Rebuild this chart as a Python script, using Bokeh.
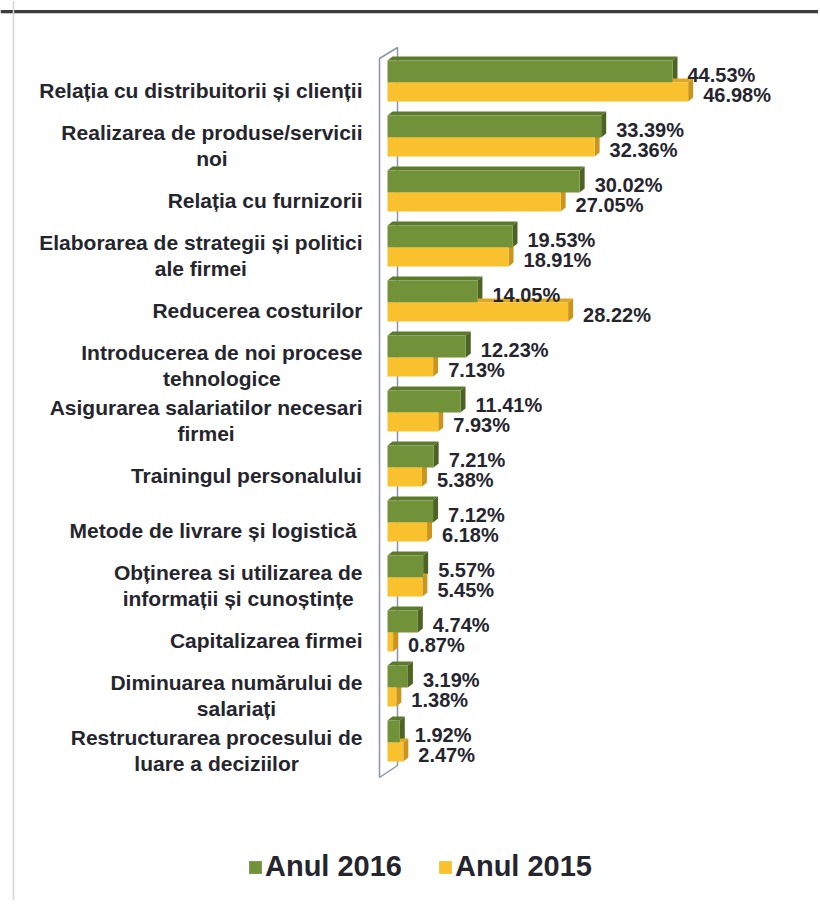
from bokeh.plotting import figure
from bokeh.models import Range1d, ColumnDataSource, Legend, LegendItem, Span
from bokeh.embed import file_html
from bokeh.resources import INLINE
from bokeh.core.properties import value

# ---------------- data ----------------
categories = [
    "Relația cu distribuitorii și clienții",
    "Realizarea de produse/servicii\nnoi",
    "Relația cu furnizorii",
    "Elaborarea de strategii și politici\nale firmei",
    "Reducerea costurilor",
    "Introducerea de noi procese\ntehnologice",
    "Asigurarea salariatilor necesari\nfirmei",
    "Trainingul personalului",
    "Metode de livrare și  logistică",
    "Obținerea si utilizarea de\ninformații și cunoștințe",
    "Capitalizarea firmei",
    "Diminuarea numărului de\nsalariați",
    "Restructurarea procesului de\nluare a deciziilor",
]
anul_2016 = [44.53, 33.39, 30.02, 19.53, 14.05, 12.23, 11.41, 7.21, 7.12, 5.57, 4.74, 3.19, 1.92]
anul_2015 = [46.98, 32.36, 27.05, 18.91, 28.22, 7.13, 7.93, 5.38, 6.18, 5.45, 0.87, 1.38, 2.47]
series_names = ["Anul 2016", "Anul 2015"]

# ---------------- layout / style ----------------
W, H = 818, 900
X_PX = 6.4      # pixels per percentage point
ROW_PX = 55     # pixels per category row
X0_PX = 387     # frame px of value zero
Y0_PX = 82      # frame px of first row's series boundary
LABEL_RIGHT_PX = 362

GREEN, GREEN_SIDE, GREEN_TOP = "#72923A", "#4C6324", "#5B7A2C"
YELLOW, YELLOW_SIDE, YELLOW_TOP = "#F9C12E", "#C9951C", "#DDA822"
TEXT = "#25252E"
FONT = "Liberation Sans"


def dx(px):
    return px / X_PX


def dy(px):
    return px / ROW_PX


# Arial/Liberation Sans Bold advance widths (per 1000 em) for label centring
AW = {" ": 278, "/": 278, "%": 889, ".": 278, "A": 722, "C": 722, "D": 722, "E": 667,
      "I": 278, "M": 833, "O": 778, "R": 722, "T": 611, "a": 556, "b": 611, "c": 556,
      "d": 611, "e": 556, "f": 333, "g": 611, "h": 611, "i": 278, "j": 278, "k": 556,
      "l": 278, "m": 889, "n": 611, "o": 611, "p": 611, "q": 611, "r": 389, "s": 556,
      "t": 333, "u": 611, "v": 556, "w": 778, "x": 556, "y": 556, "z": 500,
      "ă": 556, "â": 556, "î": 278, "ș": 556, "ş": 556, "ț": 333, "ţ": 333}
LABEL_SIZE = 21


def text_width(s, size):
    return max(sum(AW.get(c, 556) for c in line) for line in s.split("\n")) * size / 1000


p = figure(width=W, height=H, output_backend="svg", toolbar_location=None,
           x_range=Range1d(-X0_PX / X_PX, (W - X0_PX) / X_PX),
           y_range=Range1d((H - Y0_PX) / ROW_PX, -Y0_PX / ROW_PX),
           min_border=0, outline_line_color=None)
p.axis.visible = False
p.grid.visible = False
p.background_fill_color = "white"

n = len(categories)
rows = list(range(n))

# decorative page frame lines (from the screenshot)
p.add_layout(Span(location=dy(11 - Y0_PX), dimension="width", line_color="#3C3C3C", line_width=3))
p.add_layout(Span(location=dy(13 - Y0_PX), dimension="width", line_color="#C8C8C8", line_width=1))
p.add_layout(Span(location=dx(13 - X0_PX), dimension="height", line_color="#D4D4D4", line_width=1.5))

# 3D axis wall
wall_x = [[-dx(8), -dx(8), dx(10), dx(10)]]
wall_y = [[(n - 1) + dy(35), -dy(24), -dy(35), (n - 1) + dy(23)]]
p.patches(wall_x, wall_y, fill_color="white", line_color="#8C95A8", line_width=1.5)

d, e = dx(5), dy(4)
g_top = [r - dy(22) for r in rows]
g_bot = [r for r in rows]
y_top = [r for r in rows]
y_bot = [r + dy(19) for r in rows]


def faces(vals, tops, bots):
    side_x, side_y, top_x, top_y = [], [], [], []
    for v, t, b in zip(vals, tops, bots):
        side_x.append([v, v, v + d, v + d])
        side_y.append([b, t, t - e, b - e])
        top_x.append([0, d, v + d, v])
        top_y.append([t, t - e, t - e, t])
    return side_x, side_y, top_x, top_y


gsx, gsy, gtx, gty = faces(anul_2016, g_top, g_bot)
ysx, ysy, ytx, yty = faces(anul_2015, y_top, y_bot)

p.patches(gtx, gty, fill_color=GREEN_TOP, line_color=None)
p.patches(gsx, gsy, fill_color=GREEN_SIDE, line_color=None)
p.patches(ytx, yty, fill_color=YELLOW_TOP, line_color=None)
p.patches(ysx, ysy, fill_color=YELLOW_SIDE, line_color=None)

src16 = ColumnDataSource(dict(left=[0] * n, right=anul_2016, top=g_top, bottom=g_bot))
src15 = ColumnDataSource(dict(left=[0] * n, right=anul_2015, top=y_top, bottom=y_bot))
r16 = p.quad(left="left", right="right", top="top", bottom="bottom", source=src16,
             fill_color=GREEN, line_color=None)
r15 = p.quad(left="left", right="right", top="top", bottom="bottom", source=src15,
             fill_color=YELLOW, line_color=None)

# value labels
VAL_SIZE = "20px"
p.text(x=[v + dx(15) for v in anul_2016], y=[r - dy(8) for r in rows],
       text=[f"{v:.2f}%" for v in anul_2016], text_align="left", text_baseline="middle",
       text_font=value(FONT), text_font_style="bold", text_font_size=VAL_SIZE, text_color=TEXT)
p.text(x=[v + dx(15) for v in anul_2015], y=[r + dy(12) for r in rows],
       text=[f"{v:.2f}%" for v in anul_2015], text_align="left", text_baseline="middle",
       text_font=value(FONT), text_font_style="bold", text_font_size=VAL_SIZE, text_color=TEXT)

# category labels (lines centred, block right-aligned)
lab_x = [(LABEL_RIGHT_PX - text_width(c, LABEL_SIZE) / 2 - X0_PX) / X_PX for c in categories]
p.text(x=lab_x, y=[r + dy(8) for r in rows], text=categories, text_align="center",
       text_baseline="middle", text_font=value(FONT), text_font_style="bold",
       text_font_size=f"{LABEL_SIZE}px", text_color=TEXT, text_line_height=1.15)

legend = Legend(items=[LegendItem(label=series_names[0], renderers=[r16]),
                       LegendItem(label=series_names[1], renderers=[r15])],
                orientation="horizontal", location=(247, 17), padding=0, margin=0,
                spacing=35, glyph_width=16, glyph_height=16, label_standoff=2,
                label_text_font=FONT, label_text_font_style="bold",
                label_text_font_size="29px", label_text_color=TEXT,
                border_line_color=None, background_fill_alpha=0)
p.add_layout(legend)

open("out.html", "w").write(file_html(p, INLINE))
